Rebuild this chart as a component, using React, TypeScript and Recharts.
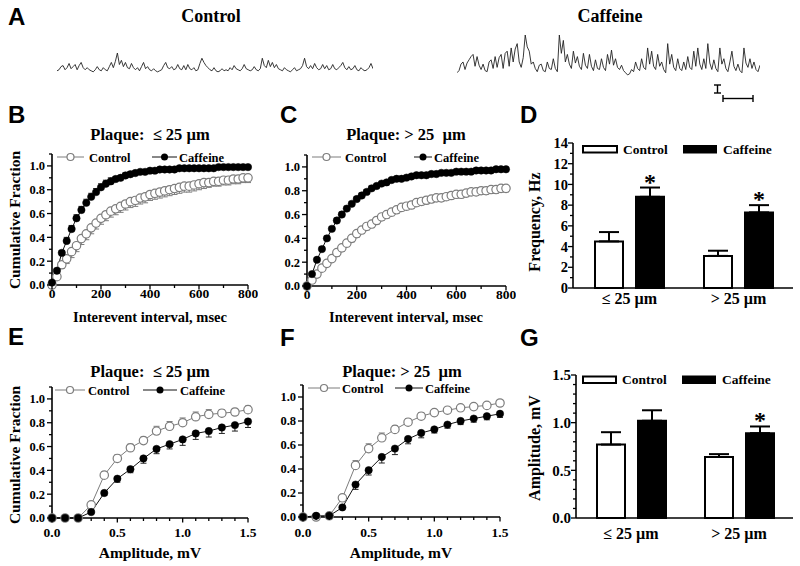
import React from 'react';
import { LineChart, Line, XAxis, YAxis, ErrorBar, BarChart, Bar, LabelList } from 'recharts';

// ---------- DATA ----------
const intervalX = [0, 20, 40, 60, 80, 100, 120, 140, 160, 180, 200, 220, 240, 260, 280, 300, 320, 340, 360, 380, 400, 420, 440, 460, 480, 500, 520, 540, 560, 580, 600, 620, 640, 660, 680, 700, 720, 740, 760, 780, 800];

const bControl = [0.00, 0.07, 0.17, 0.22, 0.28, 0.33, 0.39, 0.43, 0.48, 0.52, 0.56, 0.59, 0.62, 0.64, 0.66, 0.68, 0.70, 0.71, 0.73, 0.74, 0.76, 0.77, 0.78, 0.79, 0.80, 0.81, 0.82, 0.83, 0.83, 0.84, 0.85, 0.86, 0.86, 0.87, 0.87, 0.88, 0.88, 0.89, 0.89, 0.90, 0.90];
const bControlErr = [0, 0.02, 0.03, 0.04, 0.05, 0.05, 0.05, 0.05, 0.05, 0.05, 0.05, 0.05, 0.05, 0.05, 0.05, 0.05, 0.05, 0.05, 0.05, 0.05, 0.05, 0.05, 0.05, 0.05, 0.05, 0.05, 0.05, 0.05, 0.05, 0.05, 0.05, 0.05, 0.04, 0.04, 0.04, 0.04, 0.04, 0.04, 0.04, 0.04, 0.04];
const bCaffeine = [0.02, 0.12, 0.27, 0.37, 0.47, 0.56, 0.63, 0.69, 0.74, 0.78, 0.82, 0.85, 0.87, 0.89, 0.90, 0.92, 0.93, 0.94, 0.95, 0.95, 0.96, 0.96, 0.97, 0.97, 0.97, 0.97, 0.98, 0.98, 0.98, 0.98, 0.98, 0.98, 0.98, 0.98, 0.99, 0.99, 0.99, 0.99, 0.99, 0.99, 0.99];
const bCaffeineErr = [0, 0.01, 0.02, 0.03, 0.03, 0.03, 0.03, 0.03, 0.03, 0.03, 0.03, 0.03, 0.03, 0.02, 0.02, 0.02, 0.02, 0.01, 0.01, 0.01, 0.01, 0.01, 0.01, 0.01, 0.01, 0.01, 0.01, 0.01, 0.01, 0.01, 0.01, 0.01, 0.01, 0.01, 0.01, 0.01, 0.01, 0.01, 0.01, 0.01, 0.01];

const cControl = [0.00, 0.05, 0.10, 0.15, 0.19, 0.23, 0.28, 0.32, 0.36, 0.40, 0.44, 0.47, 0.50, 0.52, 0.55, 0.58, 0.60, 0.62, 0.64, 0.66, 0.67, 0.68, 0.70, 0.71, 0.72, 0.73, 0.74, 0.74, 0.75, 0.76, 0.77, 0.77, 0.78, 0.79, 0.79, 0.80, 0.80, 0.81, 0.81, 0.82, 0.82];
const cControlErr = [0, 0.01, 0.02, 0.02, 0.02, 0.02, 0.03, 0.03, 0.03, 0.03, 0.03, 0.03, 0.03, 0.03, 0.03, 0.03, 0.03, 0.03, 0.03, 0.03, 0.03, 0.03, 0.03, 0.03, 0.03, 0.03, 0.03, 0.03, 0.03, 0.03, 0.03, 0.03, 0.03, 0.03, 0.03, 0.03, 0.03, 0.03, 0.03, 0.03, 0.03];
const cCaffeine = [0.00, 0.10, 0.22, 0.31, 0.40, 0.48, 0.55, 0.60, 0.65, 0.69, 0.73, 0.76, 0.79, 0.82, 0.84, 0.86, 0.87, 0.89, 0.90, 0.90, 0.91, 0.92, 0.93, 0.93, 0.93, 0.94, 0.94, 0.95, 0.95, 0.95, 0.96, 0.96, 0.96, 0.96, 0.97, 0.97, 0.97, 0.97, 0.98, 0.98, 0.98];
const cCaffeineErr = [0, 0.01, 0.01, 0.02, 0.02, 0.02, 0.02, 0.02, 0.02, 0.02, 0.02, 0.02, 0.02, 0.02, 0.01, 0.01, 0.01, 0.01, 0.01, 0.01, 0.01, 0.01, 0.01, 0.01, 0.01, 0.01, 0.01, 0.01, 0.01, 0.01, 0.01, 0.01, 0.01, 0.01, 0.01, 0.01, 0.01, 0.01, 0.01, 0.01, 0.01];

const amplitudeX = [0, 0.1, 0.2, 0.3, 0.4, 0.5, 0.6, 0.7, 0.8, 0.9, 1.0, 1.1, 1.2, 1.3, 1.4, 1.5];
const eControl = [0, 0, 0, 0.11, 0.36, 0.50, 0.59, 0.65, 0.73, 0.77, 0.80, 0.85, 0.87, 0.88, 0.89, 0.91];
const eControlErr = [0, 0, 0, 0.02, 0.03, 0.03, 0.03, 0.03, 0.04, 0.04, 0.04, 0.04, 0.04, 0.03, 0.03, 0.03];
const eCaffeine = [0, 0, 0, 0.05, 0.21, 0.33, 0.41, 0.50, 0.58, 0.62, 0.66, 0.71, 0.73, 0.76, 0.78, 0.81];
const eCaffeineErr = [0, 0, 0, 0.01, 0.02, 0.03, 0.03, 0.04, 0.04, 0.04, 0.05, 0.05, 0.05, 0.05, 0.05, 0.05];

const fControl = [0, 0, 0.01, 0.16, 0.43, 0.57, 0.66, 0.73, 0.79, 0.84, 0.87, 0.89, 0.91, 0.92, 0.93, 0.95];
const fControlErr = [0, 0, 0, 0.02, 0.04, 0.04, 0.04, 0.03, 0.03, 0.03, 0.02, 0.02, 0.01, 0.01, 0.01, 0.01];
const fCaffeine = [0, 0.01, 0.01, 0.08, 0.27, 0.39, 0.50, 0.57, 0.65, 0.70, 0.73, 0.77, 0.80, 0.82, 0.84, 0.86];
const fCaffeineErr = [0, 0, 0, 0.01, 0.04, 0.04, 0.05, 0.05, 0.04, 0.04, 0.03, 0.03, 0.03, 0.03, 0.03, 0.03];

const groups = ['≤ 25 µm', '> 25 µm'];
const freqControl = [4.5, 3.1];
const freqControlErr = [0.9, 0.5];
const freqCaffeine = [8.8, 7.3];
const freqCaffeineErr = [0.9, 0.7];
const freqStars = ['*', '*'];

const ampControl = [0.77, 0.64];
const ampControlErr = [0.13, 0.03];
const ampCaffeine = [1.02, 0.89];
const ampCaffeineErr = [0.11, 0.07];
const ampStars = ['', '*'];

const intervalTicks = [0, 100, 200, 300, 400, 500, 600, 700, 800];
const intervalMajor = [0, 200, 400, 600, 800];
const amplitudeTicks = [0, 0.1, 0.2, 0.3, 0.4, 0.5, 0.6, 0.7, 0.8, 0.9, 1.0, 1.1, 1.2, 1.3, 1.4, 1.5];
const amplitudeMajor = [0, 0.5, 1.0, 1.5];
const fractionTicks = [0, 0.1, 0.2, 0.3, 0.4, 0.5, 0.6, 0.7, 0.8, 0.9, 1.0, 1.1];
const fractionMajor = [0, 0.2, 0.4, 0.6, 0.8, 1.0];
const freqTicks = [0, 1, 2, 3, 4, 5, 6, 7, 8, 9, 10, 11, 12, 13, 14];
const freqMajor = [0, 2, 4, 6, 8, 10, 12, 14];
const ampBarTicks = [0, 0.1, 0.2, 0.3, 0.4, 0.5, 0.6, 0.7, 0.8, 0.9, 1.0, 1.1, 1.2, 1.3, 1.4, 1.5];
const ampBarMajor = [0, 0.5, 1.0, 1.5];

// sample traces (panel A)
const controlTrace = [0, 1, 4, 5, 1, 3, 7, 2, 4, 6, 1, 5, 8, 3, 1, 3, 1, 0, -1, 1, 4, 1, 0, 3, 1, 0, 4, 8, 3, 9, 17, 6, 10, 4, 8, 3, 2, 7, 3, 1, 3, 0, 4, 8, 2, 4, 1, 0, 2, 0, -1, 0, 1, 5, 8, 3, 2, 4, 1, 2, 6, 2, 1, 5, 1, 6, 2, 1, 3, 0, 1, 7, 12, 8, 5, 3, 1, 0, 3, 0, -1, 0, 2, 0, 1, 0, 3, 1, 5, 2, 1, 0, 2, 6, 2, 1, 0, 1, 4, 1, 0, 2, 12, 5, 3, 10, 4, 8, 3, 6, 2, 1, 0, 3, 1, 0, -1, 1, 3, 0, 1, 2, 5, 12, 4, 2, 5, 2, 7, 3, 1, 2, 6, 2, 5, 1, 2, 6, 2, 1, 3, 5, 8, 3, 1, 4, 1, 2, 5, 1, 0, 3, 1, 0, 1, 3, 7, 2];
const caffeineTrace = [0, 2, 8, 10, 3, 9, 12, 15, 17, 6, 15, 7, 3, 8, 2, 1, 10, 12, 4, 15, 5, 14, 17, 4, 18, 20, 6, 23, 10, 22, 27, 10, 5, 14, 35, 24, 20, 8, 10, 4, 1, 7, 8, 2, 1, 10, 4, 3, 13, 4, 1, 35, 18, 30, 10, 17, 8, 4, 20, 9, 15, 6, 3, 18, 7, 4, 17, 6, 2, 12, 4, 3, 13, 5, 2, 17, 8, 21, 7, 13, 5, 3, 7, 2, 0, -2, -1, 3, 1, 10, 4, 2, 13, 5, 3, 23, 8, 20, 6, 3, 17, 6, 10, 3, 0, 27, 8, 17, 5, 2, 13, 4, 2, 10, 3, 15, 5, 3, 20, 6, 23, 8, 3, 13, 4, 27, 9, 3, 12, 4, 1, 23, 8, 13, 4, 1, 10, 20, 6, 2, 8, 2, 0, 23, 9, 5, 13, 4, 10, 3, 1, 7];

// ---------- STYLE ----------
const SERIF = '"Liberation Serif", "Times New Roman", serif';
const SANS = '"Liberation Sans", Arial, sans-serif';
const TS = 5;
const TM = 2;
const AXIS = { stroke: '#000', strokeWidth: 1.6 };
const CTRL_GRAY = '#7d7d7d';

const isIn = (arr: number[], v: number) => arr.some((m) => Math.abs(m - v) < 1e-6);

const makeXTick = (majors: number[] | null, fmt: (v: any) => string, off: number, fontSize: number, lines: boolean) => (p: any) => {
  const v = p.payload.value;
  const ay = p.y - TS - TM;
  const major = majors ? isIn(majors, v) : true;
  return (
    <g>
      {lines && <line x1={p.x} x2={p.x} y1={ay} y2={ay + (major ? 4.5 : 3)} stroke="#000" strokeWidth={1.3} />}
      {major && (
        <text x={p.x} y={ay + off} textAnchor="middle" fontFamily={SERIF} fontWeight="bold" fontSize={fontSize} fill="#000">
          {fmt(v)}
        </text>
      )}
    </g>
  );
};

const makeYTick = (majors: number[], fmt: (v: number) => string, gap: number, fontSize: number) => (p: any) => {
  const v = p.payload.value;
  const ax = p.x + TS + TM;
  const major = isIn(majors, v);
  return (
    <g>
      <line x1={ax} x2={ax - (major ? 5 : 3)} y1={p.y} y2={p.y} stroke="#000" strokeWidth={1.3} />
      {major && (
        <text x={ax - gap} y={p.y} dy="0.35em" textAnchor="end" fontFamily={SERIF} fontWeight="bold" fontSize={fontSize} fill="#000">
          {fmt(v)}
        </text>
      )}
    </g>
  );
};

const fmt1 = (v: number) => v.toFixed(1);
const fmt0 = (v: number) => String(Math.round(v));

type Rect = { l: number; t: number; r: number; b: number; cl: number };

function CurvePanel(props: {
  rect: Rect;
  xs: number[];
  ctrl: number[];
  ctrlErr: number[];
  ctrlUp: boolean;
  caf: number[];
  cafErr: number[];
  cafUp: boolean;
  xDomain: [number, number];
  xTicks: number[];
  xMajor: number[];
  xFmt: (v: number) => string;
  xOff: number;
}) {
  const { rect } = props;
  const MT = 10;
  const MR = 10;
  const XH = 30;
  const YW = rect.l - rect.cl;
  const width = rect.r - rect.cl + MR;
  const height = rect.b - rect.t + MT + XH;
  const rows = props.xs.map((x, i) => ({
    x,
    ctrl: props.ctrl[i],
    caf: props.caf[i],
    ce: props.ctrlUp ? [0, props.ctrlErr[i]] : [props.ctrlErr[i], 0],
    fe: props.cafUp ? [0, props.cafErr[i]] : [props.cafErr[i], 0],
  }));
  return (
    <div style={{ position: 'absolute', left: rect.cl, top: rect.t - MT }}>
      <LineChart width={width} height={height} data={rows} margin={{ top: MT, right: MR, left: 0, bottom: 0 }}>
        <XAxis
          type="number"
          dataKey="x"
          domain={props.xDomain}
          ticks={props.xTicks}
          interval={0}
          tick={makeXTick(props.xMajor, props.xFmt, props.xOff, 13.5, true)}
          tickLine={false}
          tickSize={TS}
          tickMargin={TM}
          axisLine={AXIS}
          height={XH}
        />
        <YAxis
          type="number"
          domain={[0, 1.1]}
          ticks={fractionTicks}
          interval={0}
          tick={makeYTick(fractionMajor, fmt1, 7, 12.5)}
          tickLine={false}
          tickSize={TS}
          tickMargin={TM}
          axisLine={AXIS}
          width={YW}
        />
        <Line
          dataKey="ctrl"
          stroke={CTRL_GRAY}
          strokeWidth={1}
          dot={{ r: 4.2, fill: '#fff', stroke: CTRL_GRAY, strokeWidth: 1.2 }}
          isAnimationActive={false}
        >
          <ErrorBar dataKey="ce" direction="y" width={3} stroke={CTRL_GRAY} strokeWidth={1} />
        </Line>
        <Line
          dataKey="caf"
          stroke="#111"
          strokeWidth={1}
          dot={{ r: 3.7, fill: '#000', stroke: '#000', strokeWidth: 0.5 }}
          isAnimationActive={false}
        >
          <ErrorBar dataKey="fe" direction="y" width={3} stroke="#222" strokeWidth={1} />
        </Line>
      </LineChart>
    </div>
  );
}

function BarPanel(props: {
  rect: Rect;
  ctrl: number[];
  ctrlErr: number[];
  caf: number[];
  cafErr: number[];
  stars: string[];
  yMax: number;
  yTicks: number[];
  yMajor: number[];
  yFmt: (v: number) => string;
  yFont: number;
  xOff: number;
  padLeft: number;
  barSize: number;
}) {
  const { rect } = props;
  const MT = 10;
  const MR = 6;
  const XH = 34;
  const YW = rect.l - rect.cl;
  const width = rect.r - rect.cl + MR;
  const height = rect.b - rect.t + MT + XH;
  const rows = groups.map((g, i) => ({
    cat: g,
    idx: i,
    ctrl: props.ctrl[i],
    caf: props.caf[i],
    ce: [0, props.ctrlErr[i]],
    fe: [0, props.cafErr[i]],
  }));
  const starContent = (lp: any) => {
    const vb = lp.viewBox || {};
    const x = vb.x ?? lp.x;
    const y = vb.y ?? lp.y;
    const w = vb.width ?? lp.width;
    const h = vb.height ?? lp.height;
    const i = Number(lp.value);
    const s = props.stars[i];
    if (!s) return null;
    const pxPerUnit = h / props.caf[i];
    const errTop = y - props.cafErr[i] * pxPerUnit;
    return (
      <text x={x + w / 2} y={errTop + 2} textAnchor="middle" fontFamily={SERIF} fontWeight="bold" fontSize={24} fill="#000">
        {s}
      </text>
    );
  };
  return (
    <div style={{ position: 'absolute', left: rect.cl, top: rect.t - MT }}>
      <BarChart width={width} height={height} data={rows} margin={{ top: MT, right: MR, left: 0, bottom: 0 }} barGap={13} barSize={props.barSize}>
        <XAxis
          dataKey="cat"
          type="category"
          padding={{ left: props.padLeft, right: 0 }}
          interval={0}
          tick={makeXTick(null, (v: any) => String(v), props.xOff, 16, false)}
          tickLine={false}
          tickSize={TS}
          tickMargin={TM}
          axisLine={AXIS}
          height={XH}
        />
        <YAxis
          type="number"
          domain={[0, props.yMax]}
          ticks={props.yTicks}
          interval={0}
          tick={makeYTick(props.yMajor, props.yFmt, 5, props.yFont)}
          tickLine={false}
          tickSize={TS}
          tickMargin={TM}
          axisLine={AXIS}
          width={YW}
        />
        <Bar dataKey="ctrl" fill="#fff" stroke="#000" strokeWidth={2} isAnimationActive={false}>
          <ErrorBar dataKey="ce" direction="y" width={10} stroke="#000" strokeWidth={2} />
        </Bar>
        <Bar dataKey="caf" fill="#000" stroke="#000" strokeWidth={2} isAnimationActive={false}>
          <ErrorBar dataKey="fe" direction="y" width={10} stroke="#000" strokeWidth={2} />
          <LabelList dataKey="idx" content={starContent} />
        </Bar>
      </BarChart>
    </div>
  );
}

function TraceChart(props: { left: number; top: number; width: number; height: number; values: number[]; domain: [number, number] }) {
  const rows = props.values.map((v, i) => ({ i, v }));
  return (
    <div style={{ position: 'absolute', left: props.left, top: props.top }}>
      <LineChart width={props.width} height={props.height} data={rows} margin={{ top: 0, right: 0, left: 0, bottom: 0 }}>
        <XAxis type="number" dataKey="i" domain={['dataMin', 'dataMax']} hide />
        <YAxis type="number" domain={props.domain} hide />
        <Line dataKey="v" stroke="#222" strokeWidth={0.9} dot={false} isAnimationActive={false} />
      </LineChart>
    </div>
  );
}

const txt = { fontFamily: SERIF, fontWeight: 'bold' as const, fill: '#000' };
const letter = { fontFamily: SANS, fontWeight: 'bold' as const, fontSize: 24, fill: '#000' };

function LineLegend({ y, c1, t1, c2, t2 }: { y: number; c1: [number, number]; t1: number; c2: [number, number]; t2: number }) {
  return (
    <g>
      <line x1={c1[0]} x2={c1[1]} y1={y} y2={y} stroke={CTRL_GRAY} strokeWidth={1} />
      <circle cx={(c1[0] + c1[1]) / 2} cy={y} r={3.5} fill="#fff" stroke={CTRL_GRAY} strokeWidth={1.2} />
      <text x={t1} y={y + 4.5} fontSize={12.5} {...txt}>Control</text>
      <line x1={c2[0]} x2={c2[1]} y1={y} y2={y} stroke="#111" strokeWidth={1} />
      <circle cx={(c2[0] + c2[1]) / 2} cy={y} r={3.5} fill="#000" />
      <text x={t2} y={y + 4.5} fontSize={12.5} {...txt}>Caffeine</text>
    </g>
  );
}

function BarLegend({ y, r1, t1, r2, t2 }: { y: number; r1: [number, number]; t1: number; r2: [number, number]; t2: number }) {
  return (
    <g>
      <rect x={r1[0]} y={y} width={r1[1] - r1[0]} height={6.5} fill="#fff" stroke="#000" strokeWidth={2} />
      <text x={t1} y={y + 7.5} fontSize={13.5} {...txt}>Control</text>
      <rect x={r2[0]} y={y} width={r2[1] - r2[0]} height={6.5} fill="#000" stroke="#000" strokeWidth={2} />
      <text x={t2} y={y + 7.5} fontSize={13.5} {...txt}>Caffeine</text>
    </g>
  );
}

export default function App() {
  const B: Rect = { l: 52, t: 154, r: 248, b: 285, cl: 0 };
  const C: Rect = { l: 307, t: 155, r: 506, b: 286, cl: 267 };
  const E: Rect = { l: 52, t: 387, r: 248, b: 518, cl: 0 };
  const F: Rect = { l: 303, t: 385, r: 500, b: 517, cl: 263 };
  const D: Rect = { l: 573, t: 143, r: 793, b: 288, cl: 520 };
  const G: Rect = { l: 576, t: 375, r: 793, b: 518, cl: 520 };
  return (
    <div style={{ position: 'absolute', left: 0, top: 0, width: 800, height: 566, background: '#fff', overflow: 'hidden' }}>
      <TraceChart left={57} top={53} width={316} height={22} values={controlTrace} domain={[-4, 17]} />
      <TraceChart left={457} top={35} width={303} height={41} values={caffeineTrace} domain={[-3, 35]} />

      <CurvePanel rect={B} xs={intervalX} ctrl={bControl} ctrlErr={bControlErr} ctrlUp={false} caf={bCaffeine} cafErr={bCaffeineErr} cafUp={true}
        xDomain={[0, 800]} xTicks={intervalTicks} xMajor={intervalMajor} xFmt={fmt0} xOff={12.5} />
      <CurvePanel rect={C} xs={intervalX} ctrl={cControl} ctrlErr={cControlErr} ctrlUp={false} caf={cCaffeine} cafErr={cCaffeineErr} cafUp={true}
        xDomain={[0, 800]} xTicks={intervalTicks} xMajor={intervalMajor} xFmt={fmt0} xOff={12.5} />
      <CurvePanel rect={E} xs={amplitudeX} ctrl={eControl} ctrlErr={eControlErr} ctrlUp={true} caf={eCaffeine} cafErr={eCaffeineErr} cafUp={false}
        xDomain={[0, 1.5]} xTicks={amplitudeTicks} xMajor={amplitudeMajor} xFmt={fmt1} xOff={19} />
      <CurvePanel rect={F} xs={amplitudeX} ctrl={fControl} ctrlErr={fControlErr} ctrlUp={true} caf={fCaffeine} cafErr={fCaffeineErr} cafUp={false}
        xDomain={[0, 1.5]} xTicks={amplitudeTicks} xMajor={amplitudeMajor} xFmt={fmt1} xOff={20} />

      <BarPanel rect={D} ctrl={freqControl} ctrlErr={freqControlErr} caf={freqCaffeine} cafErr={freqCaffeineErr} stars={freqStars}
        yMax={14} yTicks={freqTicks} yMajor={freqMajor} yFmt={fmt0} yFont={14.5} xOff={16} padLeft={2} barSize={28} />
      <BarPanel rect={G} ctrl={ampControl} ctrlErr={ampControlErr} caf={ampCaffeine} cafErr={ampCaffeineErr} stars={ampStars}
        yMax={1.5} yTicks={ampBarTicks} yMajor={ampBarMajor} yFmt={fmt1} yFont={15} xOff={21} padLeft={1} barSize={28} />

      <svg width={800} height={566} style={{ position: 'absolute', left: 0, top: 0, pointerEvents: 'none' }}>
        {/* panel letters */}
        <text x={8} y={25} {...letter}>A</text>
        <text x={8} y={123} {...letter}>B</text>
        <text x={280} y={123} {...letter}>C</text>
        <text x={520} y={123} {...letter}>D</text>
        <text x={8} y={345} {...letter}>E</text>
        <text x={280} y={346} {...letter}>F</text>
        <text x={520} y={346} {...letter}>G</text>

        {/* panel A */}
        <text x={211} y={22} textAnchor="middle" fontSize={18} {...txt}>Control</text>
        <text x={610} y={22} textAnchor="middle" fontSize={18} {...txt}>Caffeine</text>
        <g stroke="#000" strokeWidth={1.4}>
          <line x1={717.5} x2={717.5} y1={85} y2={93} />
          <line x1={714} x2={721} y1={85} y2={85} />
          <line x1={714} x2={721} y1={93} y2={93} />
          <line x1={723} x2={753} y1={98.5} y2={98.5} />
          <line x1={723} x2={723} y1={95} y2={102} />
          <line x1={753} x2={753} y1={95} y2={102} />
        </g>

        {/* titles */}
        <text x={150} y={140} textAnchor="middle" fontSize={16.5} style={{ whiteSpace: 'pre' }} {...txt}>{'Plaque:  ≤ 25 µm'}</text>
        <text x={406} y={140} textAnchor="middle" fontSize={16.5} style={{ whiteSpace: 'pre' }} {...txt}>{'Plaque: > 25  µm'}</text>
        <text x={150} y={377} textAnchor="middle" fontSize={16.5} style={{ whiteSpace: 'pre' }} {...txt}>{'Plaque:  ≤ 25 µm'}</text>
        <text x={402} y={377} textAnchor="middle" fontSize={16.5} style={{ whiteSpace: 'pre' }} {...txt}>{'Plaque: > 25  µm'}</text>

        {/* legends */}
        <LineLegend y={157} c1={[57, 84]} t1={89} c2={[152, 177]} t2={179} />
        <LineLegend y={157} c1={[312, 341]} t1={345} c2={[414, 432]} t2={434} />
        <LineLegend y={390} c1={[55, 85]} t1={88} c2={[143, 177]} t2={180} />
        <LineLegend y={388} c1={[308, 340]} t1={342} c2={[395, 423]} t2={425} />
        <BarLegend y={146} r1={[583, 617]} t1={623} r2={[684, 716]} t2={723} />
        <BarLegend y={376.5} r1={[583, 616]} t1={622} r2={[683, 715]} t2={722} />

        {/* axis titles */}
        <text x={150} y={322} textAnchor="middle" fontSize={14.5} {...txt}>Interevent interval, msec</text>
        <text x={406} y={322} textAnchor="middle" fontSize={14.5} {...txt}>Interevent interval, msec</text>
        <text x={150} y={558} textAnchor="middle" fontSize={15.5} {...txt}>Amplitude, mV</text>
        <text x={401} y={558} textAnchor="middle" fontSize={15.5} {...txt}>Amplitude, mV</text>
        <text transform="translate(14,220) rotate(-90)" textAnchor="middle" dominantBaseline="central" fontSize={15.5} {...txt}>Cumulative Fraction</text>
        <text transform="translate(14,455) rotate(-90)" textAnchor="middle" dominantBaseline="central" fontSize={15.5} {...txt}>Cumulative Fraction</text>
        <text transform="translate(534,222) rotate(-90)" textAnchor="middle" dominantBaseline="central" fontSize={16} {...txt}>Frequency, Hz</text>
        <text transform="translate(534,448) rotate(-90)" textAnchor="middle" dominantBaseline="central" fontSize={16} {...txt}>Amplitude, mV</text>
      </svg>
    </div>
  );
}
